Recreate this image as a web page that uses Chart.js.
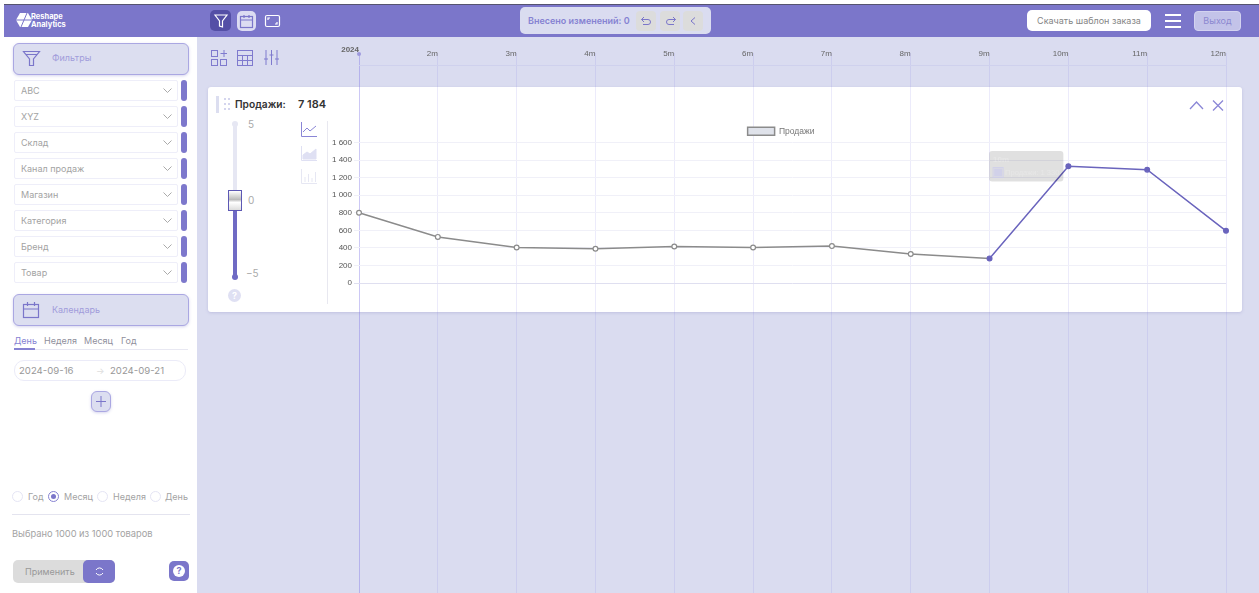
<!DOCTYPE html>
<html lang="ru">
<head>
<meta charset="utf-8">
<title>Reshape Analytics</title>
<script src="https://cdn.jsdelivr.net/npm/chart.js@4"></script>
<style>
html, body { margin: 0; padding: 0; width: 1259px; height: 593px; overflow: hidden; background: #fff; font-family: Inter, "Noto Sans", sans-serif; }
body { filter: blur(.5px); }
.a { position: absolute; box-sizing: border-box; white-space: nowrap; }
.t { font-size: 9px; color: #a3a3a3; line-height: 12px; }
svg { position: absolute; overflow: visible; fill: none; }
.btn { border: 1.5px solid #aaa7e2; background: #dcdef0; border-radius: 6px; box-shadow: 0 1px 3px rgba(120,115,200,.3); }
.drop { left: 14px; width: 164px; height: 21px; background: #fff; border: 1.5px solid #eeeef9; border-radius: 2px; }
.pill { left: 181px; width: 6px; height: 21px; background: #7d78cc; border-radius: 3px; }
.radio { width: 11px; height: 11px; border: 1px solid #e5e5f5; border-radius: 50%; background: #fff; }
canvas { position: absolute; }
</style>
</head>
<body>
<div class="a" style="left:197px;top:37px;width:1062px;height:556px;background:#dadcf0"></div>
<div class="a" style="left:4px;top:4px;width:1255px;height:33px;background:#7b76ca;border-top:1px solid #55536f"></div>

<!-- header -->
<svg style="left:16px;top:13px" width="16" height="14"><path d="M4 0h8l4 7-4 7H4L0 7z" fill="#fff"/><path d="M0 7h16M5 14l6-14" stroke="#7b76ca"/></svg>
<div class="a" style="left:31px;top:13px;color:#fff;font-size:7.5px;font-weight:700;line-height:7.5px">Reshape<br>Analytics</div>
<div class="a" style="left:210px;top:10px;width:21px;height:21px;background:#544fa6;border-radius:5px"></div>
<svg style="left:214px;top:14px" width="14" height="14" stroke="#fff" stroke-width="1.2"><path d="M1 1h12L8.5 7v6l-3-1V7z"/></svg>
<div class="a" style="left:237px;top:11px;width:19px;height:20px;background:#dcdcf2;border-radius:5px"></div>
<svg style="left:240px;top:15px" width="13" height="13" stroke="#7b76ca" stroke-width="1.2"><rect x=".5" y="1.5" width="12" height="11"/><path d="M.5 5h12M4 0v3M9 0v3"/></svg>
<svg style="left:265px;top:15px" width="15" height="12" stroke="#fff" stroke-width="1.2"><rect x=".5" y=".5" width="14" height="11" rx="1.5"/><path d="M3 5V3h2M12 7v2h-2"/></svg>

<div class="a" style="left:520px;top:7px;width:191px;height:27px;background:#dadcf0;border-radius:5px"></div>
<div class="a t" style="left:528px;top:15px;color:#8682d2;font-weight:600">Внесено изменений: 0</div>
<div class="a" style="left:636px;top:11px;width:20px;height:20px;background:#dcdcdc;border-radius:4px"></div>
<div class="a" style="left:660px;top:11px;width:20px;height:20px;background:#dcdcdc;border-radius:4px"></div>
<div class="a" style="left:683px;top:11px;width:20px;height:20px;background:#dcdcdc;border-radius:4px"></div>
<svg style="left:641px;top:17px" width="11" height="9" stroke="#7b76ca"><path d="M3 0L.5 2.5 3 5M.5 2.5H7a2.5 2.5 0 0 1 0 5H2"/></svg>
<svg style="left:665px;top:17px" width="11" height="9" stroke="#7b76ca"><path d="M8 0l2.5 2.5L8 5M10.5 2.5H4a2.5 2.5 0 0 0 0 5h5"/></svg>
<svg style="left:690px;top:17px" width="6" height="9" stroke="#7b76ca"><path d="M5 .5L1 4l4 3.5"/></svg>

<div class="a t" style="left:1027px;top:10px;width:124px;height:21px;background:#fff;border-radius:5px;text-align:center;line-height:21px;color:#858585">Скачать шаблон заказа</div>
<div class="a" style="left:1165px;top:14px;width:16px;height:2px;background:#fff"></div>
<div class="a" style="left:1165px;top:20px;width:16px;height:2px;background:#fff"></div>
<div class="a" style="left:1165px;top:26px;width:16px;height:2px;background:#fff"></div>
<div class="a t" style="left:1194px;top:11px;width:47px;height:20px;background:#c3c3e9;border:1px solid #d3d3f0;border-radius:4px;text-align:center;line-height:18px;color:#8c88d0">Выход</div>

<!-- sidebar -->
<div class="a btn" style="left:13px;top:43px;width:176px;height:32px"></div>
<svg style="left:23px;top:50px" width="17" height="17" stroke="#7b76ca" stroke-width="1.2"><path d="M.5 1.500h16l-6 7.500v6.500h-4V9zM3 4.500h11"/></svg>
<div class="a t" style="left:52px;top:52px;color:#a19cdb">Фильтры</div>
<div id="filters"></div>
<div class="a btn" style="left:13px;top:294px;width:176px;height:32px"></div>
<svg style="left:23px;top:302px" width="16" height="16" stroke="#7b76ca" stroke-width="1.2"><rect x=".5" y="2.5" width="15" height="13"/><path d="M.5 7h15M4.500 0v4M11.500 0v4"/></svg>
<div class="a t" style="left:52px;top:304px;color:#a19cdb">Календарь</div>
<div class="a t" style="left:14px;top:335px;color:#8682d2">День</div>
<div class="a t" style="left:44px;top:335px;color:#8f8f9c">Неделя</div>
<div class="a t" style="left:84px;top:335px;color:#8f8f9c">Месяц</div>
<div class="a t" style="left:121px;top:335px;color:#8f8f9c">Год</div>
<div class="a" style="left:14px;top:349px;width:174px;height:1px;background:#e8e8f2"></div>
<div class="a" style="left:14px;top:348px;width:21px;height:2px;background:#8682d2"></div>
<div class="a" style="left:14px;top:360px;width:172px;height:21px;border:1.5px solid #ebebf8;border-radius:10px"></div>
<div class="a t" style="left:19px;top:365px;color:#999;font-size:9.6px">2024-09-16</div>
<div class="a t" style="left:96px;top:365px;color:#ddd">→</div>
<div class="a t" style="left:110px;top:365px;color:#999;font-size:9.6px">2024-09-21</div>
<div class="a btn" style="left:91px;top:391px;width:20px;height:21px"></div>
<svg style="left:96px;top:396px" width="10" height="11" stroke="#7b76ca"><path d="M5 0v11M0 5.500h10"/></svg>

<div class="a radio" style="left:12px;top:491px"></div>
<div class="a t" style="left:28px;top:491px">Год</div>
<div class="a radio" style="left:48px;top:491px;border-color:#8682d2"></div>
<div class="a" style="left:51px;top:494px;width:5px;height:5px;background:#7b76ca;border-radius:50%"></div>
<div class="a t" style="left:64px;top:491px">Месяц</div>
<div class="a radio" style="left:97px;top:491px"></div>
<div class="a t" style="left:113px;top:491px">Неделя</div>
<div class="a radio" style="left:150px;top:491px"></div>
<div class="a t" style="left:165px;top:491px">День</div>
<div class="a" style="left:12px;top:514px;width:178px;height:1px;background:#e4e4ef"></div>
<div class="a t" style="left:12px;top:528px;font-size:9.3px">Выбрано 1000 из 1000 товаров</div>
<div class="a t" style="left:13px;top:560px;width:102px;height:23px;background:#dcdcdc;border-radius:5px;line-height:23px;padding-left:12px;color:#999">Применить</div>
<div class="a" style="left:83px;top:560px;width:32px;height:23px;background:#7b76ca;border-radius:5px"></div>
<svg style="left:95px;top:567px" width="9" height="9" stroke="#fff"><path d="M8 3A4 4 0 0 0 1 3M1 6a4 4 0 0 0 7 0"/></svg>
<div class="a" style="left:169px;top:561px;width:20px;height:20px;background:#7b76ca;border-radius:5px"></div>
<div class="a" style="left:173px;top:565px;width:12px;height:12px;background:#fff;border-radius:50%;color:#7b76ca;font-size:9px;font-weight:700;line-height:12px;text-align:center">?</div>

<!-- toolbar above the card -->
<svg style="left:211px;top:50px" width="16" height="16" stroke="#7f7ace"><rect x=".5" y=".5" width="6" height="6"/><rect x=".5" y="9.5" width="6" height="6"/><rect x="9.5" y="9.5" width="6" height="6"/><path d="M13 0v7M9.500 3.500h6.500"/></svg>
<svg style="left:237px;top:50px" width="16" height="16" stroke="#7f7ace"><rect x=".5" y=".5" width="15" height="15"/><path d="M.5 5.500h15M.5 10.500h15M5.500 5.500v10M10.500 5.500v10"/></svg>
<svg style="left:264px;top:50px" width="15" height="16" stroke="#7f7ace"><path d="M2 0v15M7.500 0v15M13 0v15M0 9h4M5.500 5h4M11 9h4"/></svg>

<!-- card -->
<div class="a" style="left:208px;top:87px;width:1034px;height:225px;background:#fff;border-radius:3px;box-shadow:0 1px 3px rgba(110,110,180,.25)"></div>
<div class="a" style="left:216px;top:96px;width:3px;height:17px;background:#dcdef0"></div>
<svg style="left:224px;top:98px" width="6" height="13"><path d="M0 0h2v2H0zM4 0h2v2H4zM0 5h2v2H0zM4 5h2v2H4zM0 10h2v2H0zM4 10h2v2H4z" fill="#d4d5ee"/></svg>
<div class="a" style="left:235px;top:98px;font-size:10.2px;font-weight:600;color:#333;line-height:13px">Продажи:</div>
<div class="a" style="left:298px;top:98px;font-size:11px;font-weight:600;color:#333;line-height:13px">7 184</div>
<svg style="left:1190px;top:100px" width="34" height="11" stroke="#8a86d6" stroke-width="1.3"><path d="M0 9l6.500-7L13 9M23 .5l10 10M33 .5l-10 10"/></svg>

<div class="a" style="left:233px;top:122px;width:4px;height:70px;background:#e6e7f3"></div>
<div class="a" style="left:232px;top:121px;width:6px;height:6px;background:#e6e7f3;border-radius:50%"></div>
<div class="a" style="left:233px;top:209px;width:4px;height:68px;background:#6f6ac4"></div>
<div class="a" style="left:232px;top:274px;width:6px;height:6px;background:#6f6ac4;border-radius:50%"></div>
<div class="a" style="left:228px;top:190px;width:14px;height:21px;border:1.5px solid #5d58b4;background:linear-gradient(#fff,#bbb 45%,#fff 60%,#ddd)"></div>
<div class="a t" style="left:248px;top:118px;font-size:10px;color:#aaa">5</div>
<div class="a t" style="left:248px;top:194px;font-size:10px;color:#aaa">0</div>
<div class="a t" style="left:246px;top:267px;font-size:10px;color:#aaa">−5</div>
<div class="a" style="left:228px;top:289px;width:13px;height:13px;background:#dfe0f3;border-radius:50%;color:#fff;font-size:9px;font-weight:700;line-height:13px;text-align:center">?</div>
<svg style="left:301px;top:122px" width="16" height="15" stroke="#8a86d6"><path d="M.5 0v14.500H16M2 10l4-4 3 3 6-5"/></svg>
<svg style="left:301px;top:146px" width="16" height="15" stroke="#dfe0f3"><path d="M.5 0v14.500H16"/><path d="M2 13V9l4-3 3 2 6-5v10z" fill="#dfe0f3"/></svg>
<svg style="left:301px;top:169px" width="16" height="15" stroke="#e6e7f3"><path d="M.5 0v14.500H16M4 13V8M7.500 13V5M11 13V9M14.500 13V3"/></svg>
<div class="a" style="left:327px;top:121px;width:1px;height:183px;background:#e8e8f0"></div>

<!-- month axis runs over the whole work area, the sales chart sits on top of it -->
<canvas id="timeline" style="left:328px;top:38px"></canvas>
<canvas id="sales" style="left:328px;top:123px"></canvas>
<div class="a" style="left:357px;top:52px;width:4px;height:4px;background:#9d99dd;border-radius:50%"></div>

<script>
const filterNames = ['ABC', 'XYZ', 'Склад', 'Канал продаж', 'Магазин', 'Категория', 'Бренд', 'Товар'];
const months = ['2024', '2m', '3m', '4m', '5m', '6m', '7m', '8m', '9m', '10m', '11m', '12m'];
const sales = [800, 525, 405, 390, 415, 405, 420, 330, 280, 1330, 1290, 594];
const seriesName = 'Продажи';
// from this month on the line is drawn in the forecast colour
const editedFrom = 8;

var box = document.getElementById('filters');
filterNames.forEach(function (name, i) {
    var top = 80 + i * 26;
    box.innerHTML += '<div class="a drop" style="top:' + top + 'px"></div>'
        + '<div class="a pill" style="top:' + top + 'px"></div>'
        + '<div class="a t" style="left:21px;top:' + (top + 5) + 'px">' + name + '</div>'
        + '<svg style="left:163px;top:' + (top + 8) + 'px" width="9" height="5" stroke="#aaa"><path d="M.5 .5L4.500 4.500 8.500 .5"/></svg>';
});

const grey = '#8b8b8b';
const purple = '#6a64bd';

function sizeCanvas(id, w, h) {
    var c = document.getElementById(id);
    c.style.width = w + 'px';
    c.style.height = h + 'px';
    c.width = w;
    c.height = h;
    return c.getContext('2d');
}

new Chart(sizeCanvas('timeline', 906, 555), {
    type: 'line',
    data: { labels: months, datasets: [{ data: [], showLine: false }] },
    options: {
        responsive: false,
        animation: false,
        events: [],
        layout: { padding: { left: 31, right: 8, top: 0, bottom: 0 } },
        plugins: { legend: { display: false }, tooltip: { enabled: false } },
        scales: {
            x: {
                position: 'top',
                afterFit: function (s) { s.height = 27; },
                grid: {
                    color: function (c) { return c.index === 0 ? 'rgba(120,110,230,.38)' : 'rgba(120,115,225,.14)'; },
                    tickLength: 12,
                    drawTicks: true
                },
                border: { display: true, color: 'rgba(120,115,215,.1)' },
                ticks: {
                    align: 'end',
                    maxRotation: 0,
                    autoSkip: false,
                    padding: -6,
                    color: '#666',
                    font: function (c) {
                        return c.index === 0
                            ? { family: 'Liberation Sans', size: 8, weight: 'bold', lineHeight: 0.75 }
                            : { family: 'Liberation Sans', size: 8 };
                    },
                    callback: function (v, i) { return i === 0 ? [months[i], ''] : months[i]; }
                }
            },
            y: { display: false }
        }
    }
});

var config = {
    type: 'line',
    data: {
        labels: months,
        datasets: [{
            label: seriesName,
            data: sales,
            borderColor: grey,
            backgroundColor: '#dfe2ea',
            borderWidth: 1.5,
            tension: 0,
            pointRadius: 2.4,
            pointBorderWidth: 1.2,
            pointBorderColor: months.map(function (m, i) { return i >= editedFrom ? purple : grey; }),
            pointBackgroundColor: months.map(function (m, i) { return i >= editedFrom ? purple : '#fff'; }),
            segment: {
                borderColor: function (c) { return c.p0DataIndex >= editedFrom ? purple : grey; }
            }
        }]
    },
    options: {
        responsive: false,
        animation: false,
        events: [],
        layout: { padding: { left: 0, right: 8, top: 0, bottom: 13 } },
        plugins: {
            legend: {
                display: true,
                labels: {
                    boxWidth: 27,
                    boxHeight: 8,
                    padding: 4,
                    color: '#777',
                    font: { family: 'Liberation Sans', size: 8.5 }
                }
            },
            tooltip: {
                enabled: true,
                xAlign: 'right',
                yAlign: 'center',
                backgroundColor: 'rgba(0,0,0,.12)',
                titleColor: 'rgba(255,255,255,.2)',
                bodyColor: 'rgba(255,255,255,.2)',
                titleFont: { family: 'Liberation Sans', size: 8 },
                bodyFont: { family: 'Liberation Sans', size: 7.5 },
                titleMarginBottom: 3,
                padding: 4,
                caretSize: 0,
                caretPadding: 5,
                cornerRadius: 3,
                boxWidth: 10,
                boxHeight: 10,
                multiKeyBackground: 'rgba(0,0,0,0)',
                callbacks: {
                    label: function (c) { return seriesName + ': ' + fmt(c.parsed.y); },
                    labelColor: function () { return { borderColor: 'rgba(205,205,235,.8)', backgroundColor: 'rgba(205,205,235,.8)' }; }
                }
            }
        },
        scales: {
            x: {
                grid: { display: false },
                border: { display: false },
                ticks: { display: false }
            },
            y: {
                min: 0,
                max: 1600,
                afterFit: function (s) { s.width = 31; },
                grid: {
                    color: function (c) { return c.tick.value === 0 ? '#dfdff0' : '#f0f0f8'; },
                    lineWidth: 1,
                    tickLength: 5
                },
                border: { display: false },
                ticks: {
                    stepSize: 200,
                    padding: 2,
                    color: '#555',
                    font: { family: 'Liberation Sans', size: 8 },
                    callback: function (v) { return fmt(v); }
                }
            }
        }
    }
};

function fmt(v) {
    return String(v).replace(/\B(?=(\d{3})+$)/g, ' ');
}

var salesChart = new Chart(sizeCanvas('sales', 906, 181), config);

// legend sits a bit closer to the plot and further right than chart.js would put it
var legendFit = salesChart.legend.fit;
salesChart.legend.fit = function () {
    legendFit.call(this);
    this.height -= 3;
    this.lineWidths[0] -= 8;
};
salesChart.update();

var hovered = salesChart.getDatasetMeta(0).data[9];
salesChart.tooltip.setActiveElements([{ datasetIndex: 0, index: 9 }], { x: hovered.x, y: hovered.y });
salesChart.update();
</script>
</body>
</html>
